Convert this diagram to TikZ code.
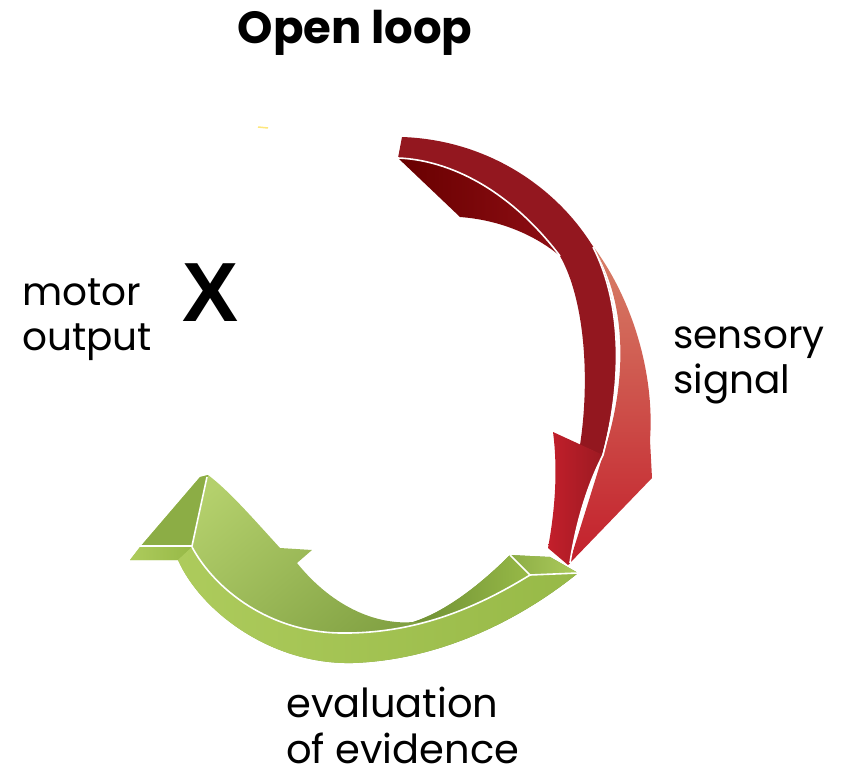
\documentclass[tikz,border=0pt]{standalone}
\usepackage{fontspec}
\setmainfont{Poppins}
\newfontfamily\crossfont{Liberation Sans}

\definecolor{rfront}{HTML}{93171F}
\definecolor{rdark}{HTML}{680000}
\definecolor{rdarkb}{HTML}{8E0E14}
\definecolor{rsalmon}{HTML}{D8836A}
\definecolor{rbright}{HTML}{C31F2B}
\definecolor{rhead}{HTML}{9C1A22}
\definecolor{glight}{HTML}{ADCB5C}
\definecolor{gmid}{HTML}{97B947}
\definecolor{gdark}{HTML}{6F9034}
\definecolor{gbright}{HTML}{B4D06C}
\definecolor{gside}{HTML}{8CAD45}

\begin{document}
\begin{tikzpicture}[x=1pt,y=-1pt,
  lbl/.style={inner sep=0pt,anchor=north west,align=left,font=\fontsize{39}{45}\selectfont},
  hl/.style={white,line width=1.6pt}]
\useasboundingbox (0,0) rectangle (841,776);

% green arrow (evaluation -> motor output)
\shade[top color=gbright,bottom color=gdark,shading angle=40]
  (510,555) .. controls (480,585) and (445,612) .. (413,622)
  .. controls (380,625) and (335,610) .. (297,563)
  -- (312,550) -- (280,548)
  .. controls (250,515) and (228,490) .. (208,475)
  -- (200,477) -- (140,547) -- (130,560) -- (178,560)
  .. controls (200,610) and (270,665) .. (353,663)
  .. controls (440,660) and (520,620) .. (578,573)
  -- (550,557) -- cycle;
\fill[gside] (200,477) -- (208,475) -- (192,547) -- (140,547) -- cycle;
\shade[left color=glight,right color=gmid] (130,560) -- (178,560) -- (192,547) -- (140,547) -- cycle;
\shade[left color=glight,right color=gmid]
  (192,547) .. controls (215,590) and (270,632) .. (340,633)
  .. controls (410,634) and (470,612) .. (530,575) -- (578,573)
  .. controls (520,620) and (440,660) .. (353,663)
  .. controls (270,665) and (200,610) .. (178,560) -- cycle;
\shade[left color=gdark,right color=gmid]
  (510,555) .. controls (480,585) and (445,612) .. (413,622)
  .. controls (440,622) and (490,600) .. (530,575) -- cycle;
\shade[left color=gside,right color=glight] (510,555) -- (550,557) -- (578,573) -- (530,575) -- cycle;
\draw[hl] (192,547) .. controls (215,590) and (270,632) .. (340,633)
  .. controls (410,634) and (470,612) .. (530,575) -- (578,573);
\draw[hl] (510,555) -- (530,575);
\draw[hl] (140,546) -- (192,546) -- (207,477);
\draw[white,line width=0.8pt] (568,584) .. controls (520,620) and (470,645) .. (420,657);

% red arrow (sensory signal)
\shade[top color=rsalmon,bottom color=rbright]
  (585,236) .. controls (630,290) and (655,370) .. (650,440) -- (652,478) -- (569,564)
  -- (603,455) .. controls (625,390) and (630,310) .. (595,250) -- cycle;
\fill[rfront] (402,137) .. controls (490,140) and (560,190) .. (595,250)
  .. controls (625,310) and (620,390) .. (602,455) -- (580,445)
  .. controls (590,380) and (585,300) .. (560,256)
  .. controls (510,190) and (450,160) .. (398,158) -- cycle;
\shade[left color=rdark,right color=rdarkb] (398,158) .. controls (450,160) and (510,190) .. (560,256)
  .. controls (535,235) and (500,220) .. (460,217) -- cycle;
\shade[left color=rbright,right color=rhead] (553,432) -- (603,455)
  .. controls (585,490) and (575,530) .. (570,563) -- (568,565) -- (548,548)
  .. controls (555,510) and (558,470) .. cycle;
\draw[hl] (398,158) .. controls (450,160) and (510,190) .. (560,256);
\draw[hl] (593,247) .. controls (625,310) and (620,390) .. (603,455)
  .. controls (585,490) and (575,530) .. (570,563);
\draw[yellow!70!orange!50,line width=1.5pt] (258,127) -- (268,128);

% labels
\node[font=\fontsize{45}{50}\selectfont\bfseries] (title) at (355,33) {Open loop};
\node[lbl] (motor) at (22,279) {motor\\output};
\node[inner sep=0pt,font=\crossfont\fontsize{84}{84}\selectfont\bfseries] (cross) at (211,293) {X};
\node[lbl] (sensory) at (673,327) {sensory\\signal};
\node[lbl,font=\fontsize{40}{46}\selectfont] (evidence) at (286,687) {evaluation\\of evidence};
\end{tikzpicture}
\end{document}
